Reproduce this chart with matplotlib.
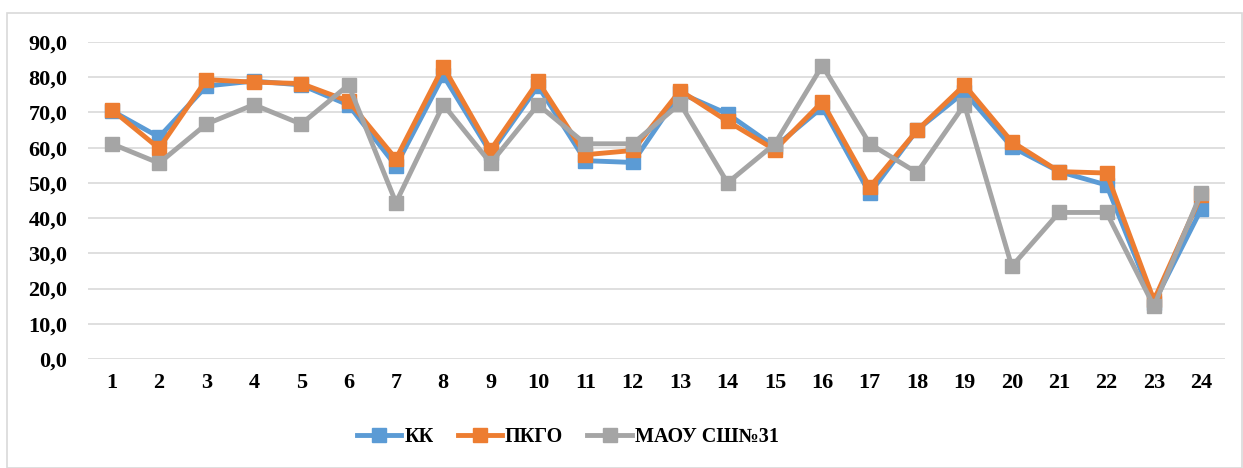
import matplotlib.pyplot as plt
from matplotlib.patches import Rectangle
from matplotlib.ticker import FuncFormatter

plt.rcParams['font.family'] = ['Liberation Serif', 'DejaVu Serif']
plt.rcParams['font.weight'] = 'bold'

categories = list(range(1, 25))
kk = [70.5, 63.0, 77.5, 78.9, 77.8, 72.1, 54.8, 80.5, 58.5, 77.5, 56.3, 55.8,
      75.5, 69.6, 60.2, 71.5, 47.0, 65.0, 75.8, 60.2, 53.2, 49.4, 16.0, 42.6]
pkgo = [70.8, 59.8, 79.3, 78.6, 78.2, 73.2, 56.8, 83.0, 59.4, 78.8, 58.0, 59.2,
        76.2, 67.5, 59.4, 73.0, 48.8, 64.9, 77.8, 61.7, 53.2, 52.8, 16.7, 46.5]
maou = [61.1, 55.6, 66.7, 72.2, 66.7, 77.8, 44.4, 72.2, 55.6, 72.2, 61.1, 61.1,
        72.5, 50.0, 61.1, 83.3, 61.1, 52.9, 72.2, 26.3, 41.6, 41.6, 15.0, 47.2]
series = [('КК', kk, '#5b9bd5'), ('ПКГО', pkgo, '#ed7d31'), ('МАОУ СШ№31', maou, '#a5a5a5')]

fig = plt.figure(figsize=(12.43, 4.68), dpi=100)
ax = fig.add_axes([0.0708, 0.2329, 0.9147, 0.6774])

# outer chart border
fig.patches.append(Rectangle((7 / 1243, 0.0), 1235 / 1243, 1 - 13 / 468,
                             transform=fig.transFigure, fill=False,
                             edgecolor='#d9d9d9', linewidth=1.2))

for name, vals, color in series:
    ax.plot(categories, vals, '-s', color=color, linewidth=3.5, markersize=10,
            label=name, solid_joinstyle='round')

ax.set_xlim(0.5, 24.5)
ax.set_ylim(0, 90)
ax.set_yticks(range(0, 91, 10))
ax.yaxis.set_major_formatter(FuncFormatter(lambda v, p: f'{v:.1f}'.replace('.', ',')))
ax.set_xticks(categories)
ax.grid(True, axis='y', color='#d9d9d9', linewidth=1.2)
ax.set_axisbelow(True)
for s in ax.spines.values():
    s.set_visible(False)
ax.tick_params(length=0, labelsize=16, pad=10)
ax.tick_params(axis='y', pad=15)

ax.legend(loc='center', bbox_to_anchor=(0.422, -0.245), ncol=3, frameon=False,
          fontsize=14.5, handlelength=2.2, columnspacing=1.2, handletextpad=0.15)

fig.savefig('out.png', dpi=100)
